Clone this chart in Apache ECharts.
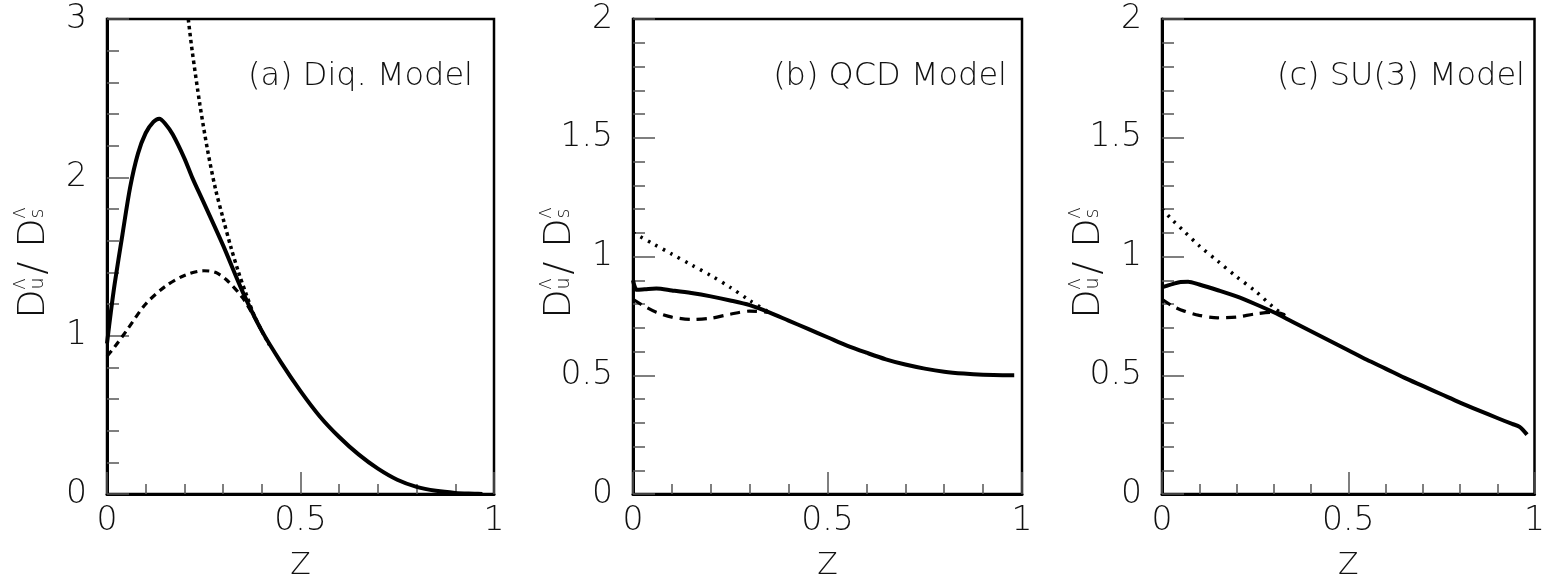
<!DOCTYPE html>
<html>
<head>
<meta charset="utf-8">
<script src="https://cdn.jsdelivr.net/npm/echarts@6/dist/echarts.min.js"></script>
<style>
  html, body { margin: 0; padding: 0; background: #fff; }
  #chart { width: 1548px; height: 586px; }
</style>
</head>
<body>
<div id="chart"></div>
<script>
// ---- data: [z, D_u/D_s] ----
const panelTitles = ['(a) Diq. Model', '(b) QCD Model', '(c) SU(3) Model'];
const yMax = [3, 2, 2];
const yStep = [1, 0.5, 0.5];

const aSolid = [[0,0.95],[0.01,1.15],[0.02,1.33],[0.04,1.64],[0.06,1.94],[0.08,2.15],[0.10,2.28],[0.12,2.35],[0.135,2.37],[0.15,2.34],[0.17,2.27],[0.20,2.12],[0.22,2.0],[0.25,1.84],[0.30,1.57],[0.35,1.28],[0.40,1.03],[0.45,0.83],[0.50,0.65],[0.55,0.49],[0.60,0.36],[0.65,0.25],[0.70,0.16],[0.75,0.09],[0.80,0.045],[0.85,0.02],[0.90,0.007],[0.95,0.002],[0.97,0]];
const aDashed = [[0,0.87],[0.02,0.93],[0.05,1.03],[0.10,1.20],[0.15,1.31],[0.20,1.38],[0.25,1.41],[0.28,1.40],[0.31,1.35],[0.35,1.24],[0.38,1.12],[0.40,1.03]];
const aDotted = [[0.21,3.0],[0.22,2.80],[0.24,2.46],[0.26,2.17],[0.28,1.93],[0.30,1.74],[0.32,1.56],[0.34,1.40],[0.36,1.26],[0.38,1.13],[0.40,1.03],[0.42,0.94]];

const bSolid = [[0,0.90],[0.005,0.87],[0.01,0.86],[0.03,0.862],[0.06,0.865],[0.10,0.857],[0.15,0.846],[0.20,0.832],[0.25,0.815],[0.30,0.795],[0.35,0.765],[0.40,0.73],[0.45,0.695],[0.50,0.66],[0.55,0.625],[0.60,0.595],[0.65,0.567],[0.70,0.545],[0.75,0.528],[0.80,0.515],[0.85,0.507],[0.90,0.502],[0.95,0.50],[0.98,0.50]];
const bDashed = [[0,0.82],[0.03,0.79],[0.06,0.765],[0.10,0.745],[0.15,0.735],[0.20,0.74],[0.25,0.757],[0.30,0.77],[0.35,0.765]];
const bDotted = [[0,1.10],[0.05,1.055],[0.10,1.01],[0.15,0.965],[0.20,0.92],[0.25,0.87],[0.30,0.815],[0.35,0.765]];

const cSolid = [[0,0.87],[0.01,0.875],[0.03,0.885],[0.05,0.893],[0.07,0.894],[0.10,0.882],[0.15,0.858],[0.20,0.832],[0.25,0.80],[0.30,0.765],[0.35,0.725],[0.40,0.685],[0.45,0.645],[0.50,0.605],[0.55,0.565],[0.60,0.528],[0.65,0.49],[0.70,0.455],[0.75,0.42],[0.80,0.385],[0.85,0.352],[0.90,0.32],[0.94,0.295],[0.96,0.283],[0.98,0.25]];
const cDashed = [[0,0.82],[0.03,0.79],[0.06,0.77],[0.10,0.752],[0.15,0.742],[0.20,0.745],[0.25,0.758],[0.30,0.765],[0.33,0.755]];
const cDotted = [[0,1.20],[0.03,1.15],[0.06,1.105],[0.10,1.045],[0.15,0.98],[0.20,0.915],[0.25,0.855],[0.30,0.785],[0.33,0.75]];

const panelData = [
    { solid: aSolid, dashed: aDashed, dotted: aDotted },
    { solid: bSolid, dashed: bDashed, dotted: bDotted },
    { solid: cSolid, dashed: cDashed, dotted: cDotted }
];

// ---- layout (px) ----
const FONT = 'DejaVu Sans';
const FW = 200;
const gridBoxes = [
    { left: 107, width: 387 },
    { left: 633, width: 389 },
    { left: 1162, width: 385 }
];
const gridTop = 19, gridHeight = 487;
const labelRight = [473, 1007, 1525];
const dashPat = [[7, 5], [10, 7], [10, 7]];
const dotPat = [[3.5, 3.5], [2.5, 6], [2.5, 6]];

const chart = echarts.init(document.getElementById('chart'), null, { renderer: 'canvas' });

const grids = [], xAxes = [], yAxes = [], series = [], graphics = [];

gridBoxes.forEach((g, i) => {
    grids.push({
        left: g.left, top: gridTop, width: g.width, height: gridHeight,
        show: true, borderColor: '#000', borderWidth: 2.5, backgroundColor: 'transparent'
    });

    xAxes.push({
        gridIndex: i, type: 'value', min: 0, max: 1, interval: 0.5,
        name: 'Z', nameLocation: 'middle', nameGap: 57,
        nameTextStyle: { fontFamily: FONT, fontWeight: FW, fontSize: 30, color: '#111' },
        axisLine: { show: true, onZero: false, lineStyle: { color: '#000', width: 3 } },
        axisTick: { show: true, inside: true, length: 22, lineStyle: { color: '#555', width: 1.5 } },
        minorTick: { show: true, splitNumber: 5, length: 10, lineStyle: { color: '#555', width: 1.5 } },
        splitLine: { show: false },
        axisLabel: { margin: 11, fontFamily: FONT, fontWeight: FW, fontSize: 33, color: '#111', showMaxLabel: true }
    });

    yAxes.push({
        gridIndex: i, type: 'value', min: 0, max: yMax[i], interval: yStep[i],
        axisLine: { show: true, onZero: false, lineStyle: { color: '#000', width: 3 } },
        axisTick: { show: true, inside: true, length: 22, lineStyle: { color: '#555', width: 1.5 } },
        minorTick: { show: true, splitNumber: 5, length: 12, lineStyle: { color: '#555', width: 1.5 } },
        splitLine: { show: false },
        axisLabel: { margin: 20, fontFamily: FONT, fontWeight: FW, fontSize: 33, color: '#111' }
    });

    const d = panelData[i];
    series.push({
        type: 'line', xAxisIndex: i, yAxisIndex: i, data: d.dotted,
        showSymbol: false, smooth: 0.3, silent: true, z: 2,
        lineStyle: { color: '#000', width: 3.5, type: dotPat[i], cap: 'butt' }
    });
    series.push({
        type: 'line', xAxisIndex: i, yAxisIndex: i, data: d.dashed,
        showSymbol: false, smooth: 0.3, silent: true, z: 3,
        lineStyle: { color: '#000', width: 3.2, type: dashPat[i], cap: 'butt' }
    });
    series.push({
        type: 'line', xAxisIndex: i, yAxisIndex: i, data: d.solid,
        showSymbol: false, smooth: 0.3, silent: true, z: 4,
        lineStyle: { color: '#000', width: 4, join: 'round' }
    });

    // panel label
    graphics.push({
        type: 'text', x: labelRight[i], y: 77,
        style: { text: panelTitles[i], align: 'right', verticalAlign: 'middle',
                 fontFamily: FONT, fontWeight: FW, fontSize: 32, fill: '#111' }
    });

    // y-axis title D^Λ_u / D^Λ_s, rotated
    graphics.push(yTitle(g.left - 62, gridTop + gridHeight / 2));
});

function yTitle(bx, cy) {
    const big = { fontFamily: FONT, fontWeight: FW, fontSize: 38, fill: '#111' };
    const small = { fontFamily: FONT, fontWeight: FW, fontSize: 19, fill: '#111' };
    const lam = { fontFamily: FONT, fontWeight: FW, fontSize: 16, fill: '#111' };
    const t = (x, y, text, st) => ({
        type: 'text', x: x, y: y,
        style: Object.assign({ text: text, align: 'left', verticalAlign: 'middle' }, st)
    });
    return {
        type: 'group', x: bx, y: cy, rotation: Math.PI / 2,
        children: [
            t(-56, -11, 'D', big),
            t(-27, -24, 'Λ', lam),
            t(-27, -7, 'u', small),
            t(-12, -11, '/', big),
            t(15, -11, 'D', big),
            t(44, -24, 'Λ', lam),
            t(44, -7, 's', small)
        ]
    };
}

chart.setOption({
    animation: false,
    backgroundColor: '#fff',
    grid: grids,
    xAxis: xAxes,
    yAxis: yAxes,
    series: series,
    graphic: graphics
});
</script>
</body>
</html>
